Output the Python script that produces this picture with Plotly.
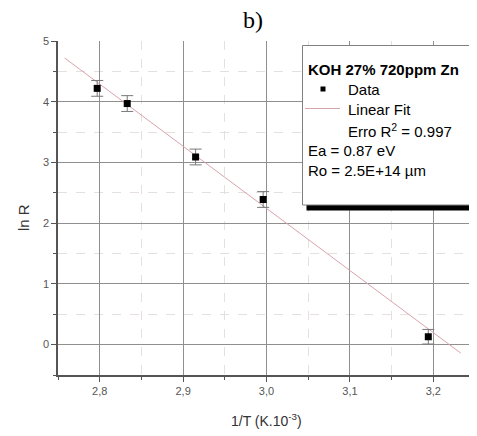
import plotly.graph_objects as go

# ---- data ----
inv_T = [2.797, 2.833, 2.915, 2.996, 3.194]          # 1/T (K.10^-3)
ln_R = [4.22, 3.97, 3.09, 2.39, 0.13]                 # ln R
ln_R_err = [0.13, 0.13, 0.13, 0.13, 0.12]             # error bars
fit_x = [2.758, 3.233]                                 # linear fit endpoints
fit_y = [4.72, -0.14]

x_ticks = [2.8, 2.9, 3.0, 3.1, 3.2]
y_ticks = [0, 1, 2, 3, 4, 5]

legend_title = "<b>KOH 27% 720ppm Zn</b>"
legend_lines = ["Data", "Linear Fit", "Erro R<sup>2</sup> = 0.997"]
info_lines = ["Ea = 0.87 eV", "Ro = 2.5E+14 µm"]

# ---- layout geometry (page has an 8 px body margin) ----
OFF = 8
W, H = 477 - OFF, 436 - OFF
L, R, T, B = 58 - OFF, 2, 41 - OFF, 61
PW, PH = W - L - R, H - T - B


def px(x):  # page pixel -> paper
    return (x - OFF - L) / PW


def py(y):  # page pixel -> paper
    return (H - B - (y - OFF)) / PH


FONT = "Arial, Liberation Sans, sans-serif"
AX = "#555555"

fig = go.Figure()

fig.add_trace(go.Scatter(
    x=fit_x, y=fit_y, mode="lines",
    line=dict(color="#d9a3ab", width=1), showlegend=False, hoverinfo="skip"))

fig.add_trace(go.Scatter(
    x=inv_T, y=ln_R, mode="markers",
    marker=dict(symbol="square", size=7, color="black"),
    error_y=dict(type="data", array=ln_R_err, visible=True,
                 color="#777777", thickness=1, width=6),
    showlegend=False))

# invisible trace on the grid axis
fig.add_trace(go.Scatter(x=[2.75], y=[0], yaxis="y2", mode="markers",
                         marker=dict(opacity=0), showlegend=False, hoverinfo="skip"))

fig.update_layout(
    width=W, height=H,
    margin=dict(l=L, r=R, t=T, b=B),
    paper_bgcolor="white", plot_bgcolor="white",
    separators=",.",
    font=dict(family=FONT, color="#444444", size=11),
    xaxis=dict(
        range=[2.75, 3.25], tickvals=x_ticks, tickformat=".1f",
        showline=True, linecolor=AX, linewidth=1.5,
        ticks="outside", ticklen=5, tickcolor=AX, tickwidth=1.2,
        showgrid=True, gridcolor="#8f8f8f", gridwidth=1,
        zeroline=False,
        minor=dict(tickvals=[2.75, 2.85, 2.95, 3.05, 3.15, 3.25],
                   ticks="outside", ticklen=3, tickcolor=AX,
                   showgrid=True, gridcolor="#e6dfdf", griddash="dash"),
        tickfont=dict(size=11, color="#555555"),
    ),
    yaxis=dict(
        range=[-0.5, 5], tickvals=y_ticks,
        showline=True, linecolor=AX, linewidth=1.5,
        ticks="outside", ticklen=5, tickcolor=AX, tickwidth=1.2,
        showgrid=False, zeroline=False,
        minor=dict(tickvals=[-0.5, 0.5, 1.5, 2.5, 3.5, 4.5],
                   ticks="outside", ticklen=3, tickcolor=AX),
        tickfont=dict(size=11, color="#555555"),
    ),
    yaxis2=dict(
        range=[-0.5, 5], overlaying="y", tickvals=y_ticks[:-1],
        showgrid=True, gridcolor="#8f8f8f", gridwidth=1,
        showticklabels=False, ticks="", showline=False, zeroline=False,
        minor=dict(tickvals=[0.5, 1.5, 2.5, 3.5, 4.5], showgrid=True,
                   gridcolor="#e6dfdf", griddash="dash", ticks=""),
        layer="below traces",
    ),
)

shapes = []
# legend shadow and box
shapes.append(dict(type="rect", xref="paper", yref="paper",
                   x0=px(306.5), x1=px(490), y0=py(210.5), y1=py(205),
                   fillcolor="black", line=dict(width=0), layer="above"))
shapes.append(dict(type="rect", xref="paper", yref="paper",
                   x0=px(302.5), x1=px(490), y0=py(205), y1=py(45.5),
                   fillcolor="white", line=dict(color="#808080", width=1), layer="above"))
# legend line sample
shapes.append(dict(type="line", xref="paper", yref="paper",
                   x0=px(305), x1=px(340), y0=py(108.5), y1=py(108.5),
                   line=dict(color="#d9a3ab", width=1), layer="above"))
# legend marker sample
shapes.append(dict(type="rect", xref="paper", yref="paper",
                   x0=px(320.5), x1=px(325.5), y0=py(91.5), y1=py(86.5),
                   fillcolor="black", line=dict(width=0), layer="above"))
fig.update_layout(shapes=shapes)

ann = []
LF = dict(family=FONT, size=15, color="black")
ann.append(dict(text=legend_title, x=px(306), y=py(69.5), xref="paper", yref="paper",
                xanchor="left", yanchor="middle", showarrow=False, font=LF))
for i, t in enumerate(legend_lines):
    ann.append(dict(text=t, x=px(346), y=py(89 + 20.5 * i), xref="paper", yref="paper",
                    xanchor="left", yanchor="middle", showarrow=False, font=LF))
for i, t in enumerate(info_lines):
    ann.append(dict(text=t, x=px(306), y=py(150 + 20.5 * i), xref="paper", yref="paper",
                    xanchor="left", yanchor="middle", showarrow=False, font=LF))
# axis titles
ann.append(dict(text="1/T (K.10<sup>-3</sup>)", x=px(266), y=py(420), xref="paper", yref="paper",
                xanchor="center", yanchor="middle", showarrow=False,
                font=dict(family=FONT, size=14, color="#333333")))
ann.append(dict(text="ln R", x=px(23), y=py(218), xref="paper", yref="paper",
                xanchor="center", yanchor="middle", showarrow=False, textangle=-90,
                font=dict(family=FONT, size=15, color="#333333")))
# panel label
ann.append(dict(text="b)", x=px(253), y=py(20), xref="paper", yref="paper",
                xanchor="center", yanchor="middle", showarrow=False,
                font=dict(family="Liberation Serif, Times New Roman, serif", size=24, color="black")))
fig.update_layout(annotations=ann)

fig.write_html("out.html")
